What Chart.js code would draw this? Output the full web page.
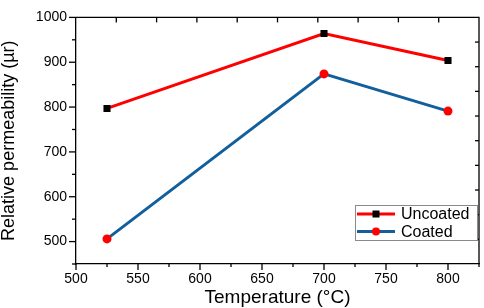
<!DOCTYPE html>
<html>
<head>
<meta charset="utf-8">
<script src="https://cdn.jsdelivr.net/npm/chart.js@4.4.0/dist/chart.umd.min.js"></script>
<style>
    html, body { margin: 0; padding: 0; background: #fff; }
    #wrap { width: 484px; height: 308px; position: relative; }
</style>
</head>
<body>
<div id="wrap"><canvas id="permChart"></canvas></div>
<script>
// Chart data
const temperatures = [525, 700, 800];
const uncoatedValues = [797, 964, 904];
const coatedValues = [506, 874, 791];
const seriesLabels = ['Uncoated', 'Coated'];
const xTicks = [500, 550, 600, 650, 700, 750, 800];
const yTicks = [500, 600, 700, 800, 900, 1000];

const FONT = 'Arial, "Liberation Sans", sans-serif';

// Build {x, y} points from the arrays
function toPoints(xs, ys) {
    return xs.map((x, i) => ({ x: x, y: ys[i] }));
}

// Draws outer ticks, mirror ticks, frame and the legend box
const framePlugin = {
    id: 'framePlugin',
    afterDraw(chart) {
        const ctx = chart.ctx;
        const area = chart.chartArea;
        const xs = chart.scales.x;
        const ys = chart.scales.y;
        ctx.save();
        ctx.strokeStyle = '#000';
        ctx.lineWidth = 1.3;

        // bottom ticks (major every 50, minor in between)
        for (let v = xs.min; v <= xs.max + 0.01; v += 25) {
            const px = xs.getPixelForValue(v);
            const len = (v % 50 === 0) ? 6 : 3;
            ctx.beginPath();
            ctx.moveTo(px, area.bottom);
            ctx.lineTo(px, area.bottom + len);
            ctx.stroke();
        }
        // left ticks
        for (let v = ys.min; v <= ys.max + 0.01; v += 50) {
            const py = ys.getPixelForValue(v);
            const len = (v % 100 === 0) ? 7 : 4;
            ctx.beginPath();
            ctx.moveTo(area.left, py);
            ctx.lineTo(area.left - len, py);
            ctx.stroke();
        }
        // top and right frame with inward ticks
        ctx.beginPath();
        ctx.moveTo(area.left, area.top);
        ctx.lineTo(area.right, area.top);
        ctx.lineTo(area.right, area.bottom);
        ctx.stroke();
        for (let i = 1; i < 10; i++) {
            const px = area.left + (area.right - area.left) * i / 10;
            ctx.beginPath();
            ctx.moveTo(px, area.top);
            ctx.lineTo(px, area.top + 5);
            ctx.stroke();
            const py = area.top + (area.bottom - area.top) * i / 10;
            ctx.beginPath();
            ctx.moveTo(area.right, py);
            ctx.lineTo(area.right - 4, py);
            ctx.stroke();
        }

        // legend
        const lx = 355, ly = 205, lw = 122, lh = 35;
        ctx.fillStyle = '#fff';
        ctx.fillRect(lx, ly, lw, lh);
        ctx.strokeStyle = '#8a8a8a';
        ctx.lineWidth = 1;
        ctx.strokeRect(lx + 0.5, ly + 0.5, lw, lh);
        chart.data.datasets.forEach((ds, i) => {
            const cy = ly + 9 + i * 17.5;
            ctx.strokeStyle = ds.borderColor;
            ctx.lineWidth = 3;
            ctx.beginPath();
            ctx.moveTo(lx + 2, cy);
            ctx.lineTo(lx + 40, cy);
            ctx.stroke();
            ctx.fillStyle = ds.pointBackgroundColor;
            if (ds.pointStyle === 'rect') {
                ctx.fillRect(lx + 21 - 3.5, cy - 3.5, 7, 7);
            } else {
                ctx.beginPath();
                ctx.arc(lx + 21, cy, 4, 0, Math.PI * 2);
                ctx.fill();
            }
            ctx.fillStyle = '#000';
            ctx.font = '16px ' + FONT;
            ctx.textBaseline = 'middle';
            ctx.fillText(ds.label, lx + 46, cy + 1);
        });
        ctx.restore();
    }
};

function initializePermChart() {
    const ctx = document.getElementById('permChart');
    new Chart(ctx, {
        type: 'scatter',
        data: {
            datasets: [{
                label: seriesLabels[0],
                data: toPoints(temperatures, uncoatedValues),
                showLine: true,
                borderColor: '#ff0000',
                borderWidth: 3,
                pointStyle: 'rect',
                pointRadius: 5,
                pointBackgroundColor: '#000000',
                pointBorderWidth: 0
            }, {
                label: seriesLabels[1],
                data: toPoints(temperatures, coatedValues),
                showLine: true,
                borderColor: '#125f9c',
                borderWidth: 3,
                pointStyle: 'circle',
                pointRadius: 4.5,
                pointBackgroundColor: '#ff0000',
                pointBorderWidth: 0
            }]
        },
        options: {
            responsive: true,
            maintainAspectRatio: false,
            animation: false,
            layout: { padding: { top: 5, right: 2, left: 0, bottom: 0 } },
            plugins: {
                legend: { display: false },
                tooltip: { enabled: false }
            },
            scales: {
                x: {
                    type: 'linear',
                    min: 500,
                    max: 825,
                    afterFit: s => { s.height = 44; },
                    afterBuildTicks: s => { s.ticks = xTicks.map(v => ({ value: v })); },
                    grid: { display: false, drawTicks: false },
                    border: { color: '#000', width: 1.3 },
                    ticks: {
                        padding: 7,
                        color: '#000',
                        font: { family: FONT, size: 14 },
                        callback: v => String(v)
                    },
                    title: {
                        display: true,
                        text: 'Temperature (°C)',
                        color: '#000',
                        padding: { top: 0, bottom: 0 },
                        font: { family: FONT, size: 19, lineHeight: 1.1 }
                    }
                },
                y: {
                    min: 450,
                    max: 1000,
                    afterFit: s => { s.width = 76; },
                    afterBuildTicks: s => { s.ticks = yTicks.map(v => ({ value: v })); },
                    grid: { display: false, drawTicks: false },
                    border: { color: '#000', width: 1.3 },
                    ticks: {
                        padding: 9,
                        color: '#000',
                        font: { family: FONT, size: 14 },
                        callback: v => String(v)
                    },
                    title: {
                        display: true,
                        text: 'Relative permeability (µr)',
                        color: '#000',
                        padding: { top: 0, bottom: 0 },
                        font: { family: FONT, size: 18, lineHeight: 1 }
                    }
                }
            }
        },
        plugins: [framePlugin]
    });
}

document.addEventListener('DOMContentLoaded', initializePermChart);
</script>
</body>
</html>
